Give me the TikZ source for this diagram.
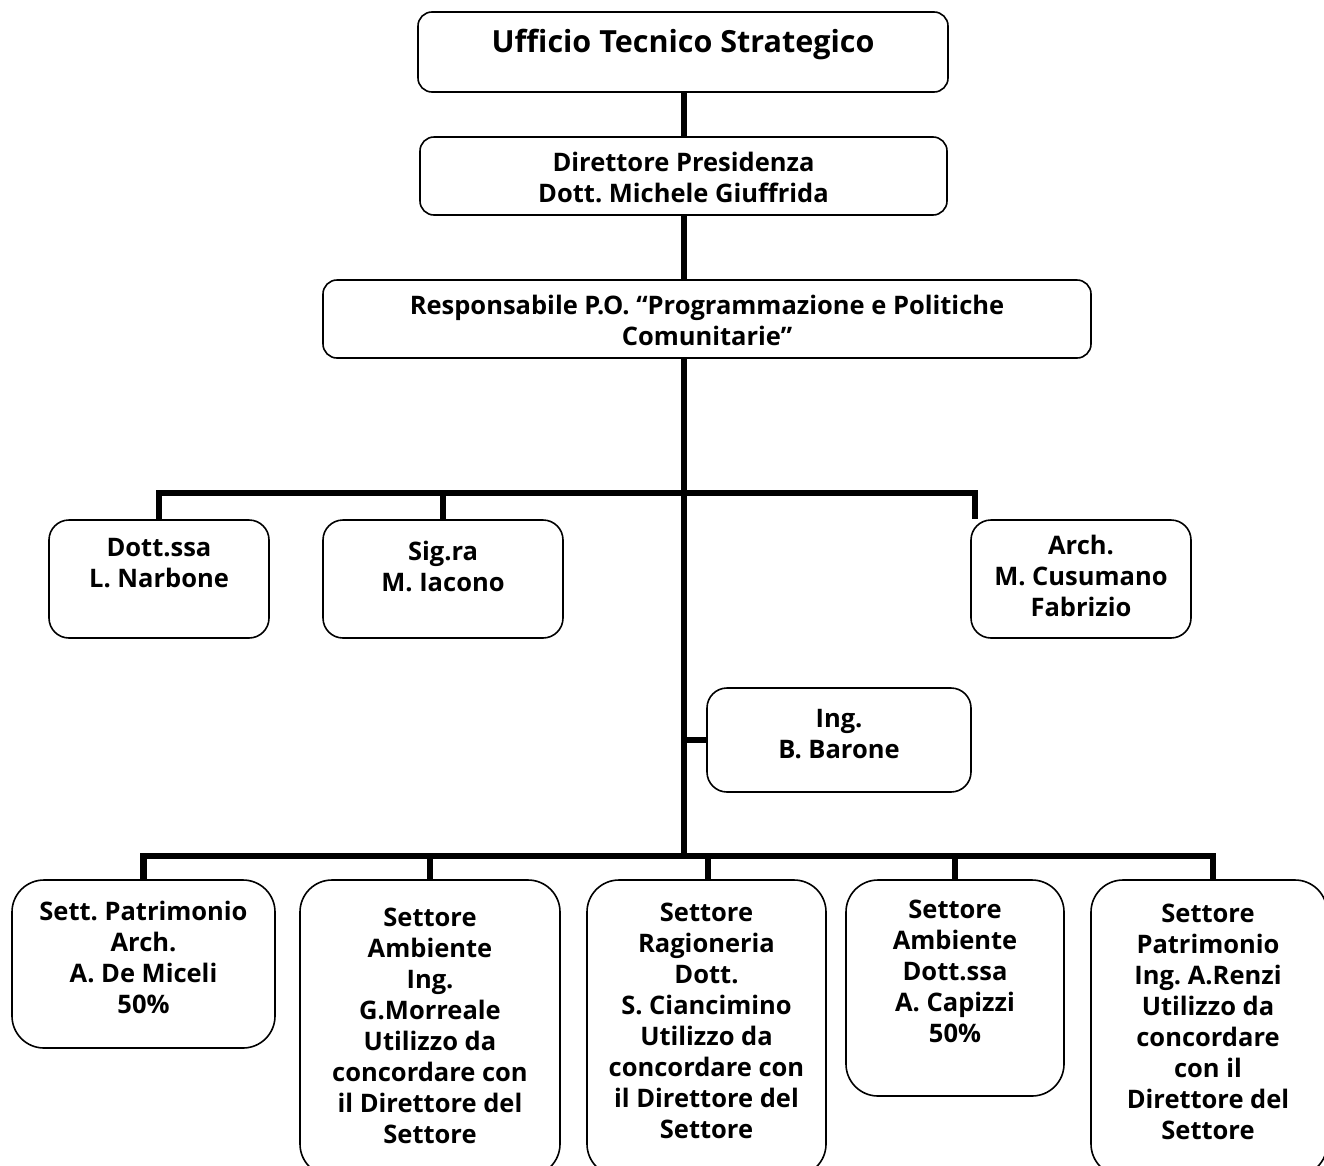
\documentclass[tikz,border=0pt]{standalone}
\usepackage{fontspec}
\setmainfont{Open Sans}[Ligatures=NoCommon]
\frenchspacing
\usetikzlibrary{calc}
\begin{document}
\begin{tikzpicture}[x=1pt,y=-1pt,
  unit/.style={draw=black, line width=1.6pt, rounded corners=14pt, inner sep=0pt},
  staff/.style={unit, rounded corners=20pt},
  sector/.style={draw=black, line width=1.6pt, rounded corners=32pt, inner sep=0pt},
  label/.style={inner sep=0pt, align=center, font=\bfseries\fontsize{25.5}{31}\selectfont},
  conn/.style={line width=6.5pt, line join=miter}
]
\useasboundingbox (0,0) rectangle (1324,1165);
\clip (0,0) rectangle (1324,1165);

% helper: box from corner (x1,y1) to (x2,y2)
\newcommand\orgbox[6]{% name, style, x1, y1, x2, y2
  \node[#2, minimum width={#5-#3}, minimum height={#6-#4}] (#1) at ({(#3+#5)/2},{(#4+#6)/2}) {};}

% top chain
\orgbox{uts}{unit}{418}{12}{948}{92}
\node[label, font=\bfseries\fontsize{30.5}{36}\selectfont, anchor=center] (utst) at (683,44) {Ufficio Tecnico Strategico};

\orgbox{dir}{unit}{420}{137}{947}{215}
\node[label] (dirt) at ([yshift=-1]dir.center) {Direttore Presidenza\\Dott. Michele Giuffrida};

\orgbox{resp}{unit}{323}{280}{1091}{358}
\node[label] (respt) at ([yshift=-1]resp.center) {Responsabile P.O. “Programmazione e Politiche\\Comunitarie”};

% staff row
\orgbox{narb}{staff}{49}{520}{269}{638}
\node[label, anchor=north] (narbt) at (159,538) {Dott.ssa\\L. Narbone};

\orgbox{iac}{staff}{323}{520}{563}{638}
\node[label, anchor=north] (iact) at (443,541) {Sig.ra\\M. Iacono};

\orgbox{cus}{staff}{971}{520}{1191}{638}
\node[label, anchor=north] (cust) at (1081,535) {Arch.\\M. Cusumano\\Fabrizio};

\orgbox{bar}{staff}{707}{688}{971}{792}
\node[label, anchor=north] (bart) at (839,709) {Ing.\\B. Barone};

% sectors row
\orgbox{s1}{sector}{12}{880}{275}{1048}
\node[label, anchor=north] (s1t) at (143.5,901) {Sett. Patrimonio\\Arch.\\A. De Miceli\\50\%};

\orgbox{s2}{sector}{300}{880}{560}{1176}
\node[label, anchor=north] (s2t) at (430,908) {Settore\\Ambiente\\Ing.\\G.Morreale\\Utilizzo da\\concordare con\\il Direttore del\\Settore};

\orgbox{s3}{sector}{587}{880}{826}{1176}
\node[label, anchor=north] (s3t) at (706.5,903) {Settore\\Ragioneria\\Dott.\\S. Ciancimino\\Utilizzo da\\concordare con\\il Direttore del\\Settore};

\orgbox{s4}{sector}{846}{880}{1064}{1096}
\node[label, anchor=north] (s4t) at (955,900) {Settore\\Ambiente\\Dott.ssa\\A. Capizzi\\50\%};

\orgbox{s5}{sector}{1091}{880}{1327}{1176}
\node[label, anchor=north] (s5t) at (1208,904) {Settore\\Patrimonio\\Ing. A.Renzi\\Utilizzo da\\concordare\\con il\\Direttore del\\Settore};

% trunk and buses
\coordinate (top) at (684,92);
\coordinate (busA) at (684,493);
\coordinate (busB) at (684,856);
\coordinate (barj) at (684,740);

\draw[conn] (top) -- (top |- dir.north);
\draw[conn] (top |- dir.south) -- (top |- resp.north);
\draw[conn] (top |- resp.south) -- (busB);

\draw[conn] (narb.north) |- (busA) -| ($(cus.north west)+(5,0)$);
\draw[conn] (iac.north) -- (iac.north |- busA);
\draw[conn] (barj) -- (barj -| bar.west);

\draw[conn] (s1.north) |- (busB) -| ($(s5.north)+(4,0)$);
\draw[conn] (s2.north) -- (s2.north |- busB);
\draw[conn] ($(s3.north)+(1.5,0)$) -- ($(s3.north |- busB)+(1.5,0)$);
\draw[conn] (s4.north) -- (s4.north |- busB);
\end{tikzpicture}
\end{document}
